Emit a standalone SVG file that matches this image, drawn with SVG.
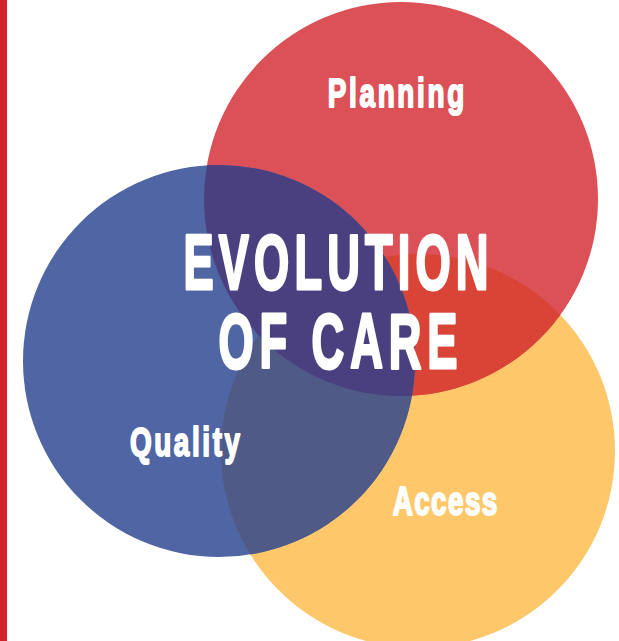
<svg xmlns="http://www.w3.org/2000/svg" width="619" height="641" viewBox="0 0 619 641">
<style>
.lbl{font-family:"Liberation Sans",Arial,sans-serif;font-weight:bold;fill:#ffffff;stroke:#ffffff;stroke-linejoin:round}
.small{font-size:41px;stroke-width:2}
.big{font-size:78px;stroke-width:3}
</style>
<defs>
<clipPath id="clipRed"><circle cx="401" cy="199" r="197"/></clipPath>
<clipPath id="clipBlue"><circle cx="219" cy="361" r="196"/></clipPath>
</defs>
<rect x="0" y="0" width="619" height="641" fill="#ffffff"/>
<rect x="0" y="0" width="7" height="641" fill="#D2232A"/>
<g id="access">
<circle cx="418" cy="451" r="197" fill="#FEC86A"/>
</g>
<g id="planning">
<circle cx="401" cy="199" r="197" fill="#DC5157"/>
<circle cx="418" cy="451" r="197" fill="#DA4437" clip-path="url(#clipRed)"/>
</g>
<g id="quality">
<circle cx="219" cy="361" r="196" fill="#5066A4"/>
<circle cx="418" cy="451" r="197" fill="#4F5A86" clip-path="url(#clipBlue)"/>
<circle cx="401" cy="199" r="197" fill="#4A4080" clip-path="url(#clipBlue)"/>
</g>
<g id="labels">
<g transform="translate(396,107) scale(0.68,1)"><text class="lbl small" x="0" y="0" text-anchor="middle" textLength="201" lengthAdjust="spacing">Planning</text></g>
<g transform="translate(185,456) scale(0.68,1)"><text class="lbl small" x="0" y="0" text-anchor="middle" textLength="162" lengthAdjust="spacing">Quality</text></g>
<g transform="translate(445,515) scale(0.68,1)"><text class="lbl small" x="0" y="0" text-anchor="middle" textLength="154" lengthAdjust="spacing">Access</text></g>
</g>
<g id="title">
<g transform="translate(336,289) scale(0.58,1)"><text class="lbl big" x="0" y="0" text-anchor="middle" textLength="526" lengthAdjust="spacing">EVOLUTION</text></g>
<g transform="translate(338,368) scale(0.58,1)"><text class="lbl big" x="0" y="0" text-anchor="middle" textLength="412" lengthAdjust="spacing">OF CARE</text></g>
</g>
<g id="connectors"></g>
</svg>
